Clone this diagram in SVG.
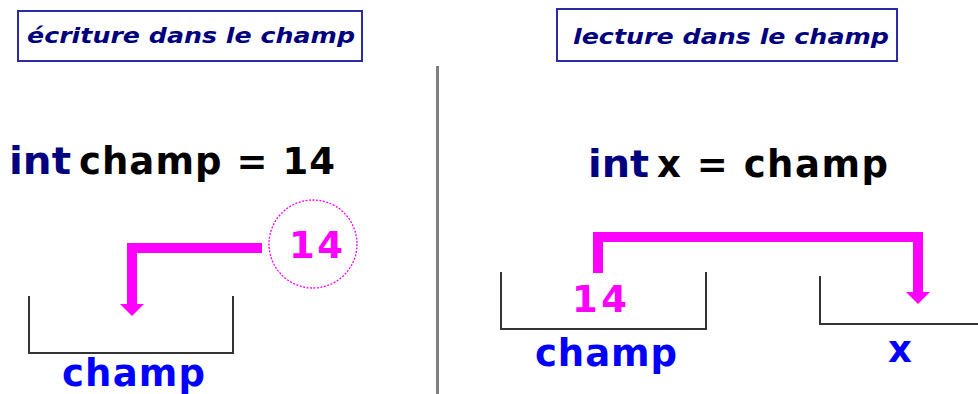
<svg xmlns="http://www.w3.org/2000/svg" width="978" height="394" viewBox="0 0 978 394">
<style>
.title{font-family:"DejaVu Sans",sans-serif;font-style:italic;font-weight:bold;font-size:22px;fill:#00007f}
.tbox{fill:none;stroke:#2b2ba6;stroke-width:2}
.code{font-family:"DejaVu Sans",sans-serif;font-weight:bold;font-size:37px}
.kw{fill:#000080}
.blk{fill:#000}
.lbl{fill:#0000ff}
.val{fill:#ff00ff}
.bracket{fill:none;stroke:#333;stroke-width:2}
.flow{fill:none;stroke:#ff00ff;stroke-width:10}
.head{fill:#ff00ff}
</style>
<rect width="978" height="394" fill="#fff"/>
<g id="title-left">
<rect class="tbox" x="18" y="11" width="344" height="50"/>
<text class="title" x="27" y="43" textLength="328" lengthAdjust="spacingAndGlyphs">écriture dans le champ</text>
</g>
<g id="title-right">
<rect class="tbox" x="557" y="9" width="340" height="52"/>
<text class="title" x="573" y="44" textLength="316" lengthAdjust="spacingAndGlyphs">lecture dans le champ</text>
</g>
<g id="separator">
<line x1="437.5" y1="66" x2="437.5" y2="394" stroke="#808080" stroke-width="3"/>
</g>
<g id="stmt-left">
<text class="code kw" x="9" y="174" textLength="62" lengthAdjust="spacingAndGlyphs">int</text>
<text class="code blk" x="79" y="174" textLength="256" lengthAdjust="spacing">champ = 14</text>
</g>
<g id="stmt-right">
<text class="code kw" x="588" y="177" textLength="61" lengthAdjust="spacingAndGlyphs">int</text>
<text class="code blk" x="657" y="177" textLength="231" lengthAdjust="spacing">x = champ</text>
</g>
<g id="value-circle">
<circle cx="313" cy="244" r="44" fill="none" stroke="#ff00ff" stroke-width="1.3" stroke-dasharray="2 1.5"/>
<text class="code val" x="289" y="258" textLength="54" lengthAdjust="spacing">14</text>
</g>
<g id="champ-left">
<polyline class="bracket" points="29,296 29,353 233,353 233,296"/>
<text class="code lbl" x="62" y="386" textLength="143" lengthAdjust="spacing">champ</text>
</g>
<g id="champ-right">
<polyline class="bracket" points="501,272 501,329 706,329 706,272"/>
<text class="code val" x="572" y="312" textLength="55" lengthAdjust="spacing">14</text>
<text class="code lbl" x="535" y="366" textLength="142" lengthAdjust="spacing">champ</text>
</g>
<g id="x-right">
<polyline class="bracket" points="820,276 820,324 978,324"/>
<text class="code lbl" x="888" y="362" textLength="28" lengthAdjust="spacing">x</text>
</g>
<g id="connectors">
<polyline class="flow" points="262,248 132,248 132,305"/>
<polygon class="head" points="120,304 144,304 132,316"/>
<polyline class="flow" points="598,273 598,237 918,237 918,293"/>
<polygon class="head" points="906,292 930,292 918,304"/>
</g>
</svg>
